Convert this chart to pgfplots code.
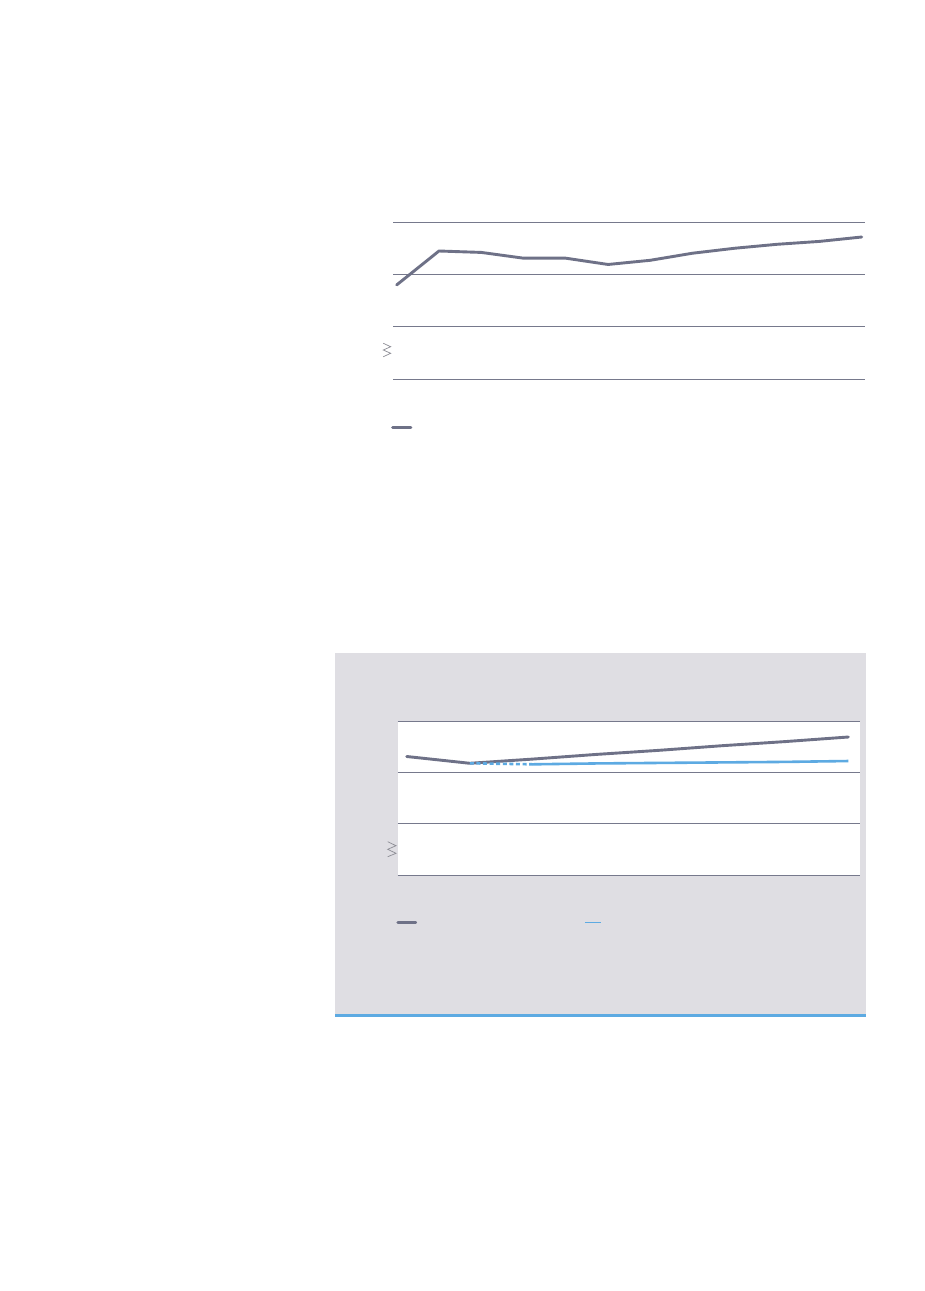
\documentclass[border=0pt]{standalone}
\usepackage{pgfplots}
\pgfplotsset{compat=1.18}
\definecolor{lineGray}{RGB}{110,113,135}
\definecolor{gridGray}{RGB}{118,121,140}
\definecolor{lineBlue}{RGB}{93,170,226}
\definecolor{panelGray}{RGB}{223,222,227}
\definecolor{breakGray}{RGB}{140,140,148}
\begin{document}
\begin{tikzpicture}
\begin{scope}[x=0.5pt,y=-0.5pt]
\path[use as bounding box, fill=white] (0,0) rectangle (925,1291);
\fill[panelGray] (335,653.3) rectangle (865.7,1014.2);
\fill[lineBlue] (335,1014.2) rectangle (865.7,1017);
\draw[breakGray, line width=0.35pt] (383.3,343.3) -- (390.7,346.7) -- (383.3,350) -- (390.7,353.3) -- (383.3,356.7);
\draw[breakGray, line width=0.35pt] (387.7,841.7) -- (396,845.7) -- (387.7,849.3) -- (396,853.3) -- (387.7,856.7);
\end{scope}

% Chart 1
\begin{axis}[
  at={(196.5pt,-189.65pt)}, anchor=south west,
  scale only axis, width=236pt, height=78.65pt,
  xmin=-0.0875, xmax=11.078, ymin=0, ymax=3,
  ytick={0,1,2,3}, yticklabels={}, xtick=\empty,
  ymajorgrids, grid style={gridGray, line width=0.5pt},
  axis line style={draw=none}, major tick length=0pt,
  clip=false,
  legend style={at={(rel axis cs:0,0)}, anchor=west, xshift=-1.15pt, yshift=-24pt,
    draw=none, fill=none, inner sep=0pt, nodes={inner sep=0pt, outer sep=0pt}},
  legend image code/.code={\draw[#1] (0pt,0pt) -- (9.15pt,0pt);},
]
\addplot[lineGray, line width=1.45pt, line join=round, line cap=round] coordinates {
(0,1.80) (1,2.447) (2,2.42) (3,2.31) (4,2.31) (5,2.19) (6,2.27)
(7,2.405) (8,2.50) (9,2.575) (10,2.63) (11,2.714)};
\addlegendentry{}
\end{axis}

% Chart 2
\begin{axis}[
  at={(198.85pt,-437.65pt)}, anchor=south west,
  scale only axis, width=231.15pt, height=77.15pt,
  xmin=-0.1427, xmax=7.185, ymin=0, ymax=3,
  axis background/.style={fill=white},
  ytick={0,1,2,3}, yticklabels={}, xtick=\empty,
  ymajorgrids, grid style={gridGray, line width=0.5pt},
  axis line style={draw=none}, major tick length=0pt,
  clip=false,
  legend columns=2,
  legend style={at={(rel axis cs:0,0)}, anchor=west, xshift=-0.85pt, yshift=-23.5pt,
    draw=none, fill=none, inner sep=0pt, nodes={inner sep=0pt, outer sep=0pt},
    /tikz/column sep=0pt,
    /tikz/every even column/.append style={column sep=82.5pt}},
]
\addplot[lineGray, line width=1.45pt, line join=round, line cap=round,
  legend image code/.code={\draw[lineGray, line width=1.4pt] (0pt,0pt) -- (9pt,0pt);}] coordinates {
(0,2.31) (1,2.178) (2,2.26) (3,2.35) (4,2.43) (5,2.52) (6,2.60) (7,2.689)};
\addlegendentry{}
\addplot[lineBlue, line width=1.3pt, dash pattern=on 2pt off 1.3pt, forget plot] coordinates {
(1,2.178) (2,2.158)};
\addplot[lineBlue, line width=1.3pt, line join=round,
  legend image code/.code={\draw[lineBlue, line width=0.6pt] (0pt,0pt) -- (8pt,0pt);}] coordinates {
(2,2.158) (3,2.175) (4,2.185) (5,2.195) (6,2.205) (7,2.222)};
\addlegendentry{}
\end{axis}
\end{tikzpicture}
\end{document}
